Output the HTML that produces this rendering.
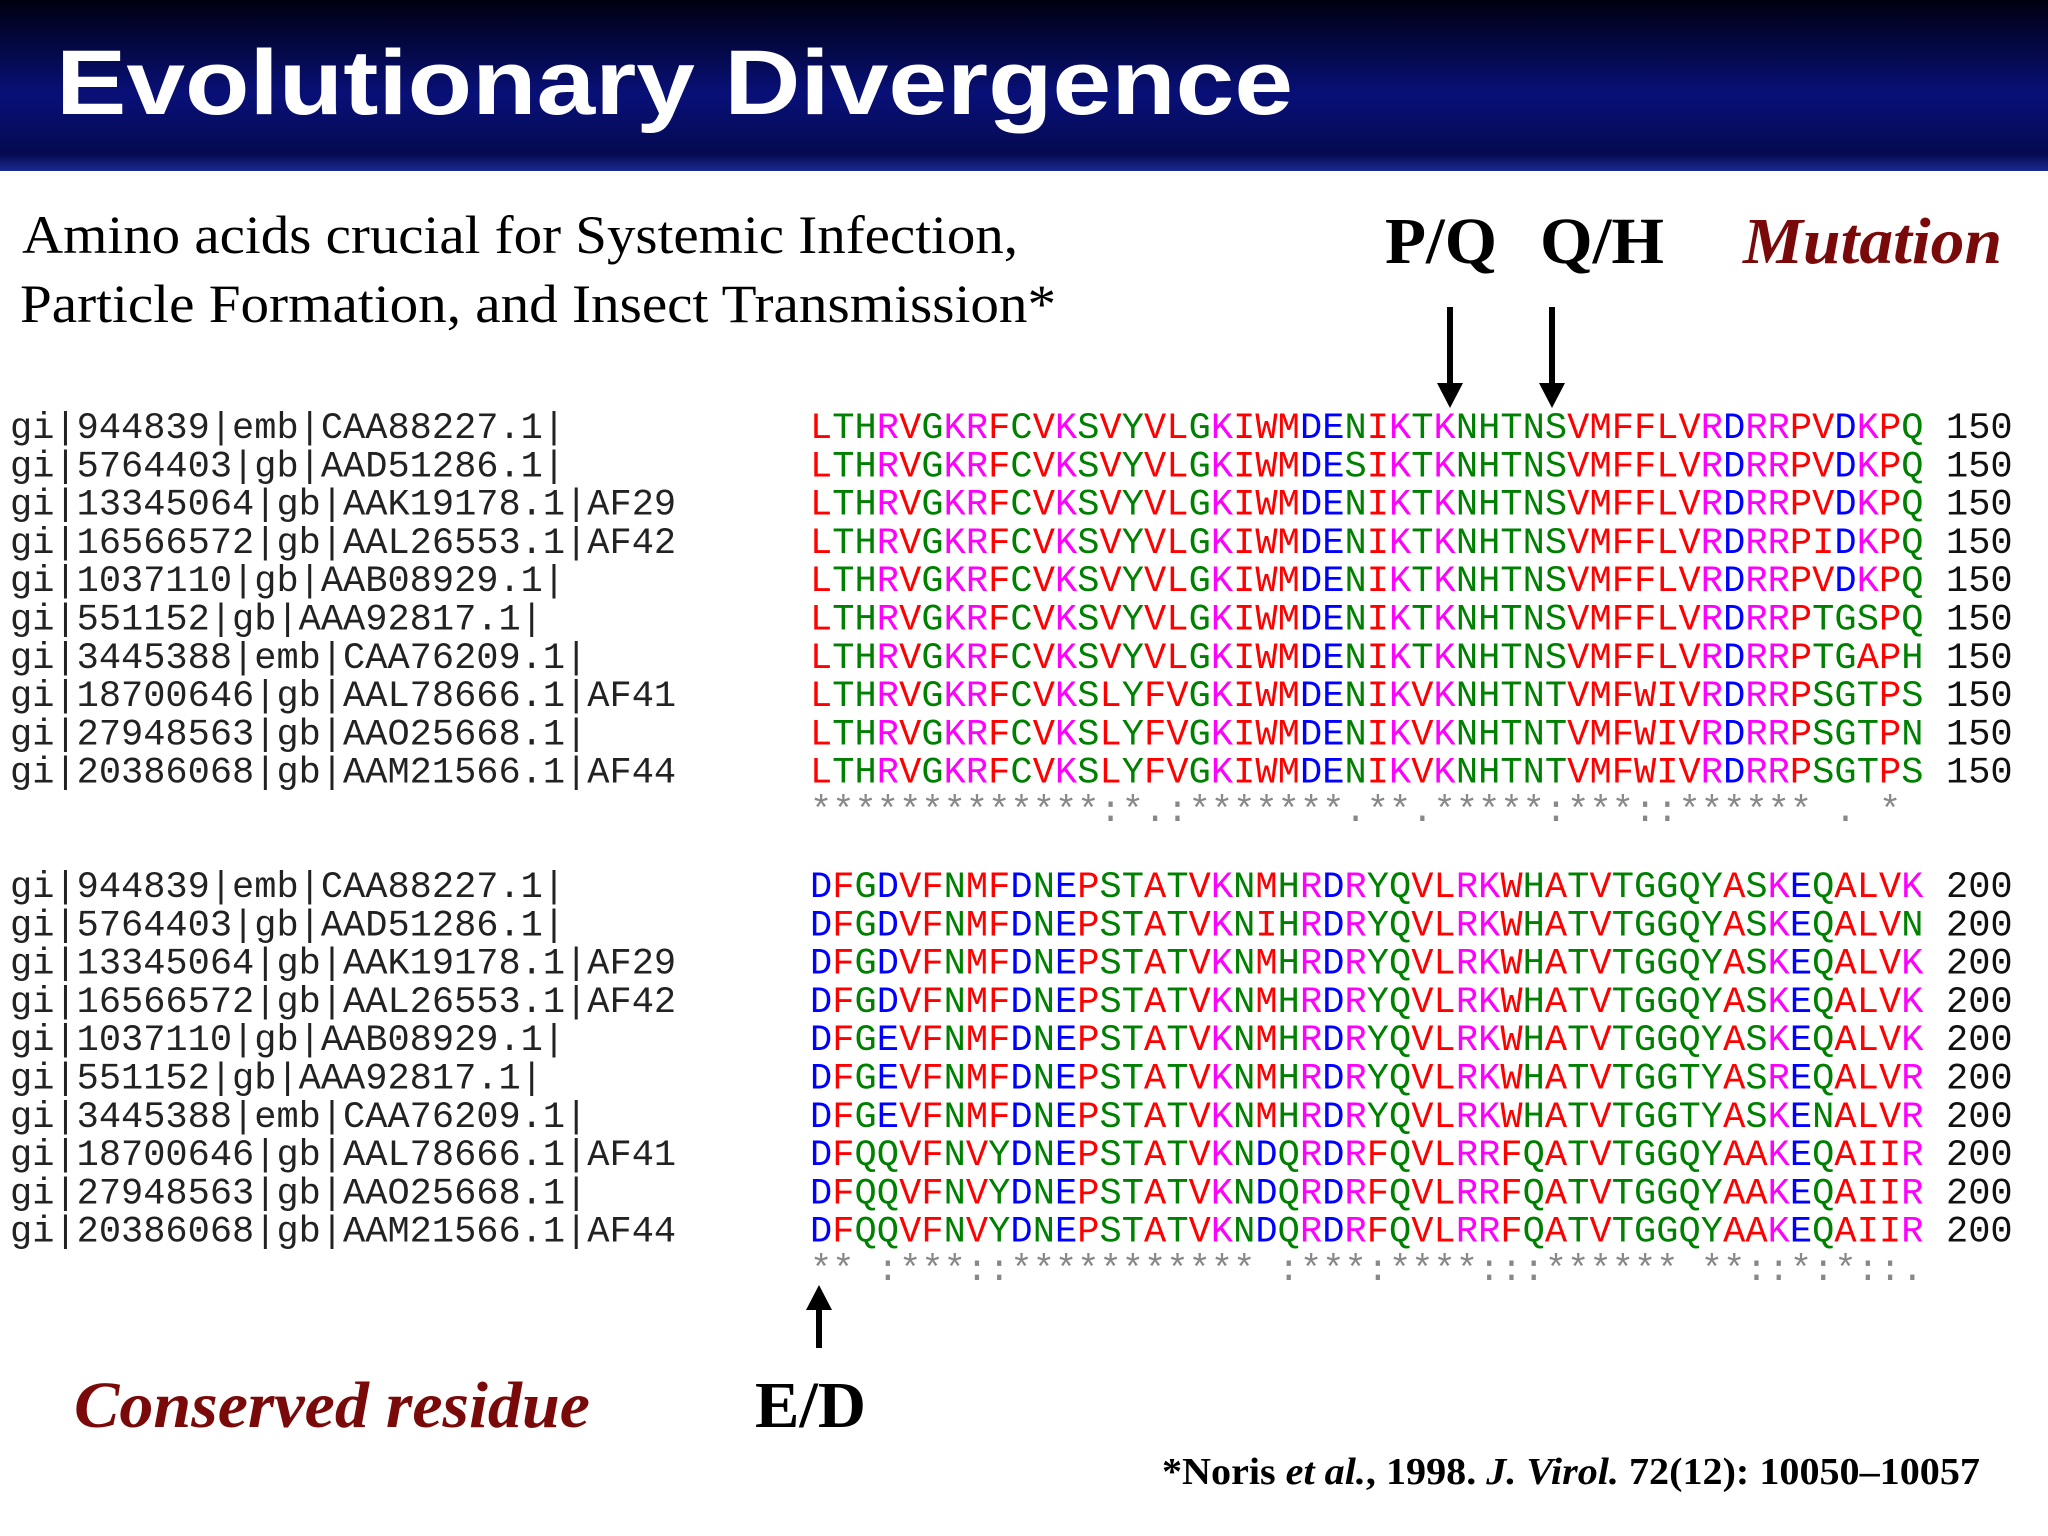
<!DOCTYPE html>
<html><head><meta charset="utf-8"><style>
html,body{margin:0;padding:0;background:#fff;}
svg{display:block;}
.mono{font-family:"Liberation Mono","DejaVu Sans Mono",monospace;font-size:37px;}
.serif{font-family:"Liberation Serif",serif;}
</style></head><body>
<svg id="s" width="2048" height="1536" viewBox="0 0 2048 1536" xmlns="http://www.w3.org/2000/svg">
<defs>
<linearGradient id="hg" x1="0" y1="0" x2="0" y2="1">
<stop offset="0" stop-color="#000010"/><stop offset="0.55" stop-color="#081078"/><stop offset="0.9" stop-color="#050a50"/><stop offset="1" stop-color="#1a2a90"/>
</linearGradient>
</defs>
<rect x="0" y="0" width="2048" height="171" fill="url(#hg)"/>
<text x="56" y="114" font-family="Liberation Sans, sans-serif" font-weight="bold" font-size="92" fill="#fff" textLength="1237" lengthAdjust="spacingAndGlyphs">Evolutionary Divergence</text>
<text class="serif" x="22" y="253" font-size="54" fill="#000" textLength="996" lengthAdjust="spacingAndGlyphs">Amino acids crucial for Systemic Infection,</text>
<text class="serif" x="20" y="322" font-size="54" fill="#000" textLength="1036" lengthAdjust="spacingAndGlyphs">Particle Formation, and Insect Transmission*</text>
<text class="serif" x="1385" y="263" font-size="66" font-weight="bold" fill="#000" textLength="112" lengthAdjust="spacingAndGlyphs">P/Q</text>
<text class="serif" x="1540" y="263" font-size="66" font-weight="bold" fill="#000" textLength="124" lengthAdjust="spacingAndGlyphs">Q/H</text>
<text class="serif" x="1743" y="263" font-size="66" font-weight="bold" font-style="italic" fill="#7a0a0a" textLength="259" lengthAdjust="spacingAndGlyphs">Mutation</text>
<g><rect x="1447" y="307" width="6" height="80" fill="#000"/><polygon points="1437,383 1463,383 1450,408" fill="#000"/></g>
<g><rect x="1549" y="307" width="6" height="80" fill="#000"/><polygon points="1539,383 1565,383 1552,408" fill="#000"/></g>
<g><polygon points="806,1310 832,1310 819,1285" fill="#000"/><rect x="816" y="1306" width="6" height="42" fill="#000"/></g>
<text class="serif" x="755" y="1427" font-size="66" font-weight="bold" fill="#000" textLength="111" lengthAdjust="spacingAndGlyphs">E/D</text>
<text class="serif" x="74" y="1427" font-size="66" font-weight="bold" font-style="italic" fill="#7a0a0a" textLength="516" lengthAdjust="spacingAndGlyphs">Conserved residue</text>
<text class="serif" x="1162" y="1484" font-size="38" font-weight="bold" fill="#000" textLength="818" lengthAdjust="spacingAndGlyphs">*Noris <tspan font-style="italic">et al.</tspan>, 1998. <tspan font-style="italic">J. Virol.</tspan> 72(12): 10050–10057</text>
<g id="aln"></g>
</svg>
<script>
const names = ["gi|944839|emb|CAA88227.1|","gi|5764403|gb|AAD51286.1|","gi|13345064|gb|AAK19178.1|AF29","gi|16566572|gb|AAL26553.1|AF42","gi|1037110|gb|AAB08929.1|","gi|551152|gb|AAA92817.1|","gi|3445388|emb|CAA76209.1|","gi|18700646|gb|AAL78666.1|AF41","gi|27948563|gb|AAO25668.1|","gi|20386068|gb|AAM21566.1|AF44"];
const block1 = ["LTHRVGKRFCVKSVYVLGKIWMDENIKTKNHTNSVMFFLVRDRRPVDKPQ","LTHRVGKRFCVKSVYVLGKIWMDESIKTKNHTNSVMFFLVRDRRPVDKPQ","LTHRVGKRFCVKSVYVLGKIWMDENIKTKNHTNSVMFFLVRDRRPVDKPQ","LTHRVGKRFCVKSVYVLGKIWMDENIKTKNHTNSVMFFLVRDRRPIDKPQ","LTHRVGKRFCVKSVYVLGKIWMDENIKTKNHTNSVMFFLVRDRRPVDKPQ","LTHRVGKRFCVKSVYVLGKIWMDENIKTKNHTNSVMFFLVRDRRPTGSPQ","LTHRVGKRFCVKSVYVLGKIWMDENIKTKNHTNSVMFFLVRDRRPTGAPH","LTHRVGKRFCVKSLYFVGKIWMDENIKVKNHTNTVMFWIVRDRRPSGTPS","LTHRVGKRFCVKSLYFVGKIWMDENIKVKNHTNTVMFWIVRDRRPSGTPN","LTHRVGKRFCVKSLYFVGKIWMDENIKVKNHTNTVMFWIVRDRRPSGTPS"];
const block2 = ["DFGDVFNMFDNEPSTATVKNMHRDRYQVLRKWHATVTGGQYASKEQALVK","DFGDVFNMFDNEPSTATVKNIHRDRYQVLRKWHATVTGGQYASKEQALVN","DFGDVFNMFDNEPSTATVKNMHRDRYQVLRKWHATVTGGQYASKEQALVK","DFGDVFNMFDNEPSTATVKNMHRDRYQVLRKWHATVTGGQYASKEQALVK","DFGEVFNMFDNEPSTATVKNMHRDRYQVLRKWHATVTGGQYASKEQALVK","DFGEVFNMFDNEPSTATVKNMHRDRYQVLRKWHATVTGGTYASREQALVR","DFGEVFNMFDNEPSTATVKNMHRDRYQVLRKWHATVTGGTYASKENALVR","DFQQVFNVYDNEPSTATVKNDQRDRFQVLRRFQATVTGGQYAAKEQAIIR","DFQQVFNVYDNEPSTATVKNDQRDRFQVLRRFQATVTGGQYAAKEQAIIR","DFQQVFNVYDNEPSTATVKNDQRDRFQVLRRFQATVTGGQYAAKEQAIIR"];
const cons = ["*************:*.:*******.**.*****:***::****** . * ","** :***::*********** :***:****:::****** **::*:*::."];
const ends = ["150","200"];
const NS="http://www.w3.org/2000/svg";
const alnG=document.getElementById('aln');
function col(c){
  if("AVFPMILW".includes(c)) return "#ff0000";
  if("DE".includes(c)) return "#0000ff";
  if("RK".includes(c)) return "#ff00ff";
  return "#008000";
}
const blocks=[block1,block2];
const topY=[426,885];
const step=38.3, cw=22.27, sx=810;
blocks.forEach((blk,b)=>{
  blk.forEach((seq,r)=>{
    const y=topY[b]+r*step+12;
    const n=document.createElementNS(NS,'text');
    n.setAttribute('class','mono');n.setAttribute('x',10);n.setAttribute('y',y);n.setAttribute('fill','#222');
    
    
    n.textContent=names[r];alnG.appendChild(n);
    const t=document.createElementNS(NS,'text');
    t.setAttribute('class','mono');t.setAttribute('y',y);
    
    
    for(let i=0;i<seq.length;i++){
      const sp=document.createElementNS(NS,'tspan');
      sp.setAttribute('x',sx+i*cw);sp.setAttribute('fill',col(seq[i]));
      sp.textContent=seq[i];t.appendChild(sp);
    }
    alnG.appendChild(t);
    const e=document.createElementNS(NS,'text');
    e.setAttribute('class','mono');e.setAttribute('x',1946);e.setAttribute('y',y);e.setAttribute('fill','#111');
    
    
    e.textContent=ends[b];alnG.appendChild(e);
  });
  const cy=topY[b]+blk.length*step+12;
  const c=document.createElementNS(NS,'text');
  c.setAttribute('class','mono');c.setAttribute('y',cy);c.setAttribute('fill','#888');
  
  
  const s=cons[b];
  for(let i=0;i<s.length;i++){
    if(s[i]===' ') continue;
    const sp=document.createElementNS(NS,'tspan');
    sp.setAttribute('x',sx+i*cw);sp.textContent=s[i];c.appendChild(sp);
  }
  alnG.appendChild(c);
});
</script>
</body></html>
